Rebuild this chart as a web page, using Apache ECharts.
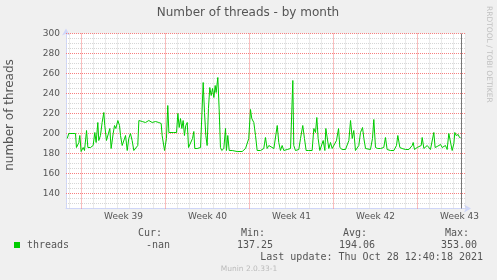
<!DOCTYPE html>
<html><head><meta charset="utf-8">
<script src="https://cdn.jsdelivr.net/npm/echarts@6/dist/echarts.min.js"></script>
<style>html,body{margin:0;padding:0;background:#F0F0F0}#c{width:497px;height:280px}</style>
</head><body><div id="c"></div>
<script>
// x values: days since Mon 27 Sep 2021 00:00 (start of week 39)
const days = [-1.19,-1.06,-0.5,-0.42,-0.22,-0.14,-0.03,0.14,0.25,0.42,0.53,0.75,0.97,1.11,1.22,1.36,1.44,1.58,1.72,1.86,1.94,2.08,2.22,2.36,2.47,2.64,2.75,2.86,3.03,3.17,3.25,3.39,3.53,3.67,3.81,3.94,4.08,4.22,4.36,4.5,4.69,4.78,5.06,5.33,5.61,5.89,6.17,6.44,6.64,6.72,6.92,7.08,7.19,7.28,7.42,7.69,7.92,8.03,8.14,8.25,8.36,8.47,8.58,8.69,8.81,8.92,9.08,9.25,9.36,9.44,9.64,9.92,10.14,10.25,10.36,10.47,10.58,10.69,10.81,10.92,11.03,11.14,11.22,11.36,11.47,11.58,11.69,11.86,12.0,12.08,12.19,12.31,12.56,12.97,13.39,13.47,13.67,13.81,13.94,14.08,14.19,14.36,14.5,14.64,14.92,15.19,15.33,15.47,15.61,
15.75,16.03,16.31,16.44,16.58,16.72,16.86,17.14,17.28,17.42,17.56,17.61,17.69,17.83,18.11,18.25,18.44,18.58,18.72,18.94,19.22,19.36,19.5,19.61,19.72,19.86,20.0,20.14,20.28,20.36,20.47,20.61,20.75,20.89,21.03,21.25,21.42,21.53,21.72,22.0,22.28,22.42,22.56,22.69,22.83,22.97,23.11,23.25,23.42,23.53,23.67,23.81,24.08,24.25,24.36,24.5,24.69,24.92,25.19,25.33,25.47,25.75,26.03,26.25,26.36,26.53,26.72,27.0,27.28,27.56,27.64,27.75,27.97,28.11,28.31,28.39,28.53,28.81,28.94,29.08,29.22,29.36,29.47,29.64,29.78,29.92,30.06,30.19,30.33,30.47,30.61,30.75,30.89,31.03,31.11,31.22,31.31,31.39,31.5,31.58];
const threads = [195,200,200,186,191,198,182,186,183,203,186,186,188,201,191,211,193,198,211,221,208,193,195,205,185,200,208,205,213,208,198,188,186,198,183,195,200,193,183,185,188,213,212,211,213,211,212,211,210,198,183,195,228,201,200,201,201,220,206,215,205,213,198,208,211,186,186,195,202,185,185,186,251,221,198,188,225,246,238,245,236,248,241,256,225,186,183,185,205,183,198,183,183,182,182,183,185,186,195,224,215,211,198,183,183,185,196,185,188,
186,185,208,191,183,188,183,184,183,185,186,253,188,183,184,195,208,195,183,183,183,205,201,216,195,183,185,193,183,205,205,185,191,185,183,193,205,186,184,184,193,213,195,203,183,183,188,201,206,195,185,184,184,195,214,186,185,185,186,196,184,183,183,188,198,186,185,184,184,188,191,184,186,184,188,196,185,188,190,184,186,201,186,187,185,189,186,184,188,184,200,201,183,190,201,198,198,199,196,196];

const yMajorTicks = [140,160,180,200,220,240,260,280,300];
const yMinorTicks = [130,135,145,150,155,165,170,175,185,190,195,205,210,215,225,230,235,245,250,255,265,270,275,285,290,295];
const weekLines = [0,7,14,21,28];
const dayLines = [-1,1,2,3,4,5,6,8,9,10,11,12,13,15,16,17,18,19,20,22,23,24,25,26,27,29,30,31,32];
const weekLabelPos = [3.5,10.5,17.5,24.5,31.5];
const weekLabels = ['Week 39','Week 40','Week 41','Week 42','Week 43'];
const nowDay = 31.65;

const legendHeaders = ['Cur:','Min:','Avg:','Max:'];
const legendValues = ['-nan','137.25','194.06','353.00'];
const lastUpdate = 'Last update: Thu Oct 28 12:40:18 2021';

const minorLines = yMinorTicks.map(v => ({yAxis:v})).concat(dayLines.map(v => ({xAxis:v})));
const majorLines = yMajorTicks.map(v => ({yAxis:v})).concat(weekLines.map(v => ({xAxis:v})));

const chart = echarts.init(document.getElementById('c'), null, {renderer:'canvas'});
const FONT = '"DejaVu Sans", sans-serif';
const MONO = '"DejaVu Sans Mono", monospace';
const headerX = [162,265,367,469];
const valueX = [170,273,375,477];

const graphics = [
  {type:'text', x:248, y:13, style:{text:'Number of threads - by month', fill:'#555', font:'12px '+FONT, textAlign:'center', textVerticalAlign:'middle'}},
  {type:'text', x:10, y:115, rotation:Math.PI/2, style:{text:'number of threads', fill:'#555', font:'12px '+FONT, textAlign:'center', textVerticalAlign:'middle'}},
  {type:'text', x:489, y:6, rotation:-Math.PI/2, style:{text:'RRDTOOL / TOBI OETIKER', fill:'#C0C0C0', font:'7.5px '+FONT, textAlign:'left', textVerticalAlign:'middle'}},
  {type:'rect', shape:{x:14, y:242, width:6, height:6}, style:{fill:'#00CC00'}},
  {type:'text', x:27, y:245.5, style:{text:'threads', fill:'#555', font:'10px '+MONO, textAlign:'left', textVerticalAlign:'middle'}},
  {type:'text', x:483, y:257.5, style:{text:lastUpdate, fill:'#555', font:'10px '+MONO, textAlign:'right', textVerticalAlign:'middle'}},
  {type:'text', x:249, y:269.5, style:{text:'Munin 2.0.33-1', fill:'#BBBBBB', font:'7.5px '+FONT, textAlign:'center', textVerticalAlign:'middle'}}
];
legendHeaders.forEach((t,i) => graphics.push({type:'text', x:headerX[i], y:233.5, style:{text:t, fill:'#555', font:'10px '+MONO, textAlign:'right', textVerticalAlign:'middle'}}));
legendValues.forEach((t,i) => graphics.push({type:'text', x:valueX[i], y:245.5, style:{text:t, fill:'#555', font:'10px '+MONO, textAlign:'right', textVerticalAlign:'middle'}}));

const ml = (data, style, z) => ({silent:true, z:z, symbol:['none','none'], animation:false, precision:4, label:{show:false}, emphasis:{disabled:true}, lineStyle:style, data:data});

chart.setOption({
  backgroundColor:'#F0F0F0',
  animation:false,
  grid:{left:66, top:33.5, width:400, height:175, show:true, backgroundColor:'#FFFFFF', borderWidth:0},
  xAxis:{
    type:'value', min:-1.2917, max:32.0417,
    splitLine:{show:false}, axisTick:{show:false},
    axisLine:{show:true, onZero:false, lineStyle:{color:'#CFD6F8', width:1}, symbol:['none','arrow'], symbolSize:[6,7], symbolOffset:[0,5]},
    axisLabel:{customValues:weekLabelPos, formatter:v => weekLabels[weekLabelPos.indexOf(v)] || '', color:'#555', fontFamily:'DejaVu Sans', fontSize:9, margin:4}
  },
  yAxis:{
    type:'value', min:125, max:300,
    splitLine:{show:false}, axisTick:{show:false},
    axisLine:{show:true, onZero:false, lineStyle:{color:'#CFD6F8', width:1}, symbol:['none','arrow'], symbolSize:[6,7], symbolOffset:[0,5]},
    axisLabel:{customValues:yMajorTicks, color:'#555', fontFamily:'DejaVu Sans', fontSize:9, margin:6}
  },
  graphic:graphics,
  series:[
    {type:'line', data:[], silent:true, z:1, color:'#D6D6D6',
     markLine:ml(minorLines, {color:'#D6D6D6', type:[1,1], width:1, opacity:1}, 1)},
    {type:'line', data:[], silent:true, z:1, color:'#F77F7F',
     markLine:ml(majorLines, {color:'#F77F7F', type:[1,1], width:1, opacity:1}, 1)},
    {type:'line', name:'threads', data:days.map((d,i)=>[d, threads[i]]), showSymbol:false, symbol:'none', z:10,
     color:'#00CC00', lineStyle:{color:'#00CC00', width:1}, itemStyle:{color:'#00CC00'},
     markLine:ml([{xAxis:nowDay}], {color:'#777', type:'solid', width:1, opacity:1}, 11)}
  ]
});
</script></body></html>
